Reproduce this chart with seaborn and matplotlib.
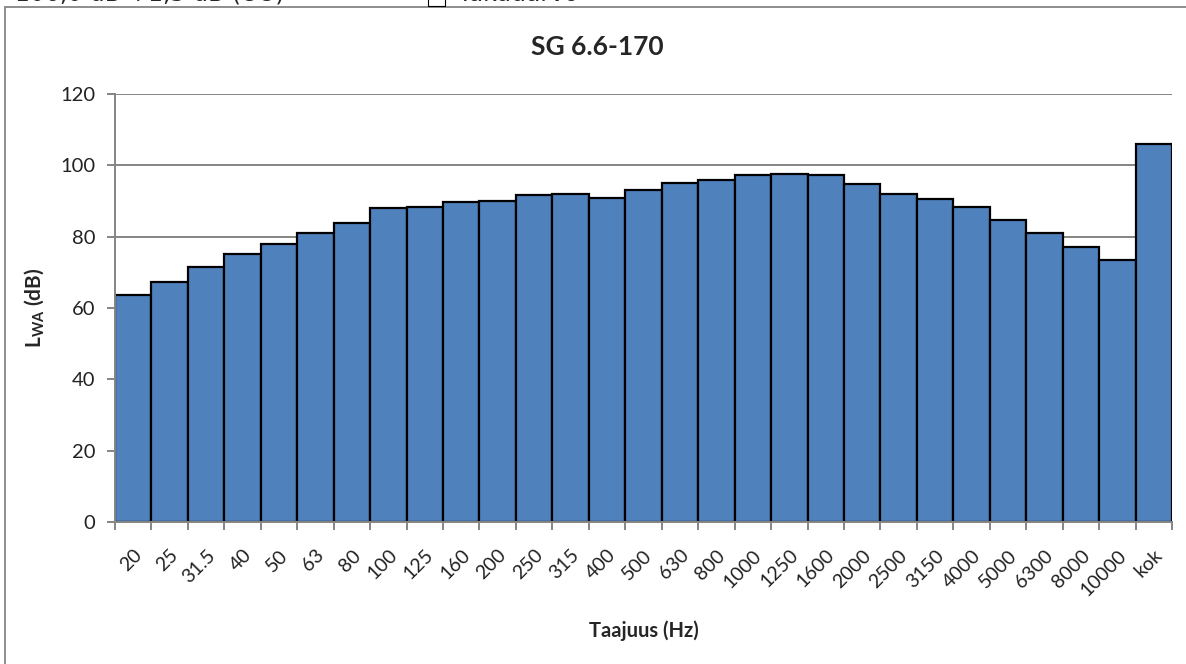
import matplotlib
matplotlib.use("Agg")
import matplotlib.pyplot as plt
from matplotlib.patches import Rectangle
from matplotlib.ticker import MultipleLocator, FixedLocator
import matplotlib.transforms as mtransforms
import pandas as pd
import seaborn as sns

# data
bands = ["20", "25", "31.5", "40", "50", "63", "80", "100", "125", "160",
         "200", "250", "315", "400", "500", "630", "800", "1000", "1250",
         "1600", "2000", "2500", "3150", "4000", "5000", "6300", "8000",
         "10000", "kok"]
lwa = [63.6, 67.4, 71.6, 75.1, 78.0, 81.1, 83.8, 88.0, 88.2, 89.6,
       90.0, 91.6, 92.0, 90.9, 93.0, 95.0, 95.9, 97.2, 97.6,
       97.3, 94.7, 92.0, 90.6, 88.3, 84.8, 81.0, 77.2,
       73.5, 106.0]
y_ticks = [0, 20, 40, 60, 80, 100, 120]

df = pd.DataFrame({"band": bands, "lwa": lwa})

sns.set_style("white")
plt.rcParams["font.family"] = ["Lato", "DejaVu Sans"]
plt.rcParams["mathtext.fontset"] = "custom"
plt.rcParams["mathtext.rm"] = "Lato:bold"
plt.rcParams["mathtext.bf"] = "Lato:bold"

gray = "#858585"

fig = plt.figure(figsize=(11.86, 6.64), dpi=100)
ax = fig.add_axes([115 / 1186, 1 - 522 / 664, (1172 - 115) / 1186, (522 - 94) / 664])

sns.barplot(data=df, x="band", y="lwa", color="#4F81BD", saturation=1,
            edgecolor="black", linewidth=1.6, width=1.0, ax=ax, zorder=2)

ax.set_xlim(-0.5, len(bands) - 0.5)
ax.set_ylim(0, 120)
ax.yaxis.set_major_locator(FixedLocator(y_ticks))
ax.set_axisbelow(True)
ax.yaxis.grid(True, color=gray, lw=1.4, zorder=0)
ax.xaxis.grid(False)

for s in ["top", "right"]:
    ax.spines[s].set_visible(False)
for s in ["left", "bottom"]:
    ax.spines[s].set_color(gray)
    ax.spines[s].set_linewidth(1.4)
    ax.spines[s].set_zorder(3)

# tick marks between categories, labels under the bars
ax.xaxis.set_minor_locator(MultipleLocator(1, offset=0.5))
ax.tick_params(axis="x", which="major", length=0, pad=22, labelsize=14, labelcolor="#222222")
ax.tick_params(axis="x", which="minor", length=6, width=1.4, color=gray, direction="out", bottom=True)
ax.tick_params(axis="y", which="major", length=6, width=1.4, color=gray, direction="out", left=True, pad=8,
               labelsize=14.5, labelcolor="#222222")
offset = mtransforms.ScaledTranslation(6 / 100, 0, fig.dpi_scale_trans)
for lab in ax.get_xticklabels():
    lab.set_rotation(45)
    lab.set_ha("right")
    lab.set_va("center")
    lab.set_rotation_mode("anchor")
    lab.set_transform(lab.get_transform() + offset)

ax.set_xlabel("Taajuus (Hz)", fontsize=14.5, fontweight="bold", labelpad=16)
ax.set_ylabel(r"L$_{\rm WA}$ (dB)", fontsize=15, fontweight="bold", labelpad=10)
fig.text(597 / 1186, 1 - 47 / 664, "SG 6.6-170", ha="center", va="center",
         fontsize=19, fontweight="bold")

# chart frame and the cut-off line of the document above it
fig.patches.append(Rectangle((5 / 1186, -0.05), 1.1, 1.05 - 7 / 664,
                             transform=fig.transFigure, fill=False,
                             edgecolor=gray, lw=1.3))
fig.text(15 / 1186, 1 - 1 / 664, "106,0 dB +1,5 dB (UU)", ha="left",
         va="baseline", fontsize=17, family="DejaVu Sans")
fig.patches.append(Rectangle((428 / 1186, 1 - 6 / 664), 17 / 1186, 0.05,
                             transform=fig.transFigure, fill=False,
                             edgecolor="black", lw=0.8))
fig.text(458 / 1186, 1 - 1 / 664, "Takuuarvo", ha="left",
         va="baseline", fontsize=17, family="DejaVu Sans")

fig.savefig("out.png", dpi=100)
